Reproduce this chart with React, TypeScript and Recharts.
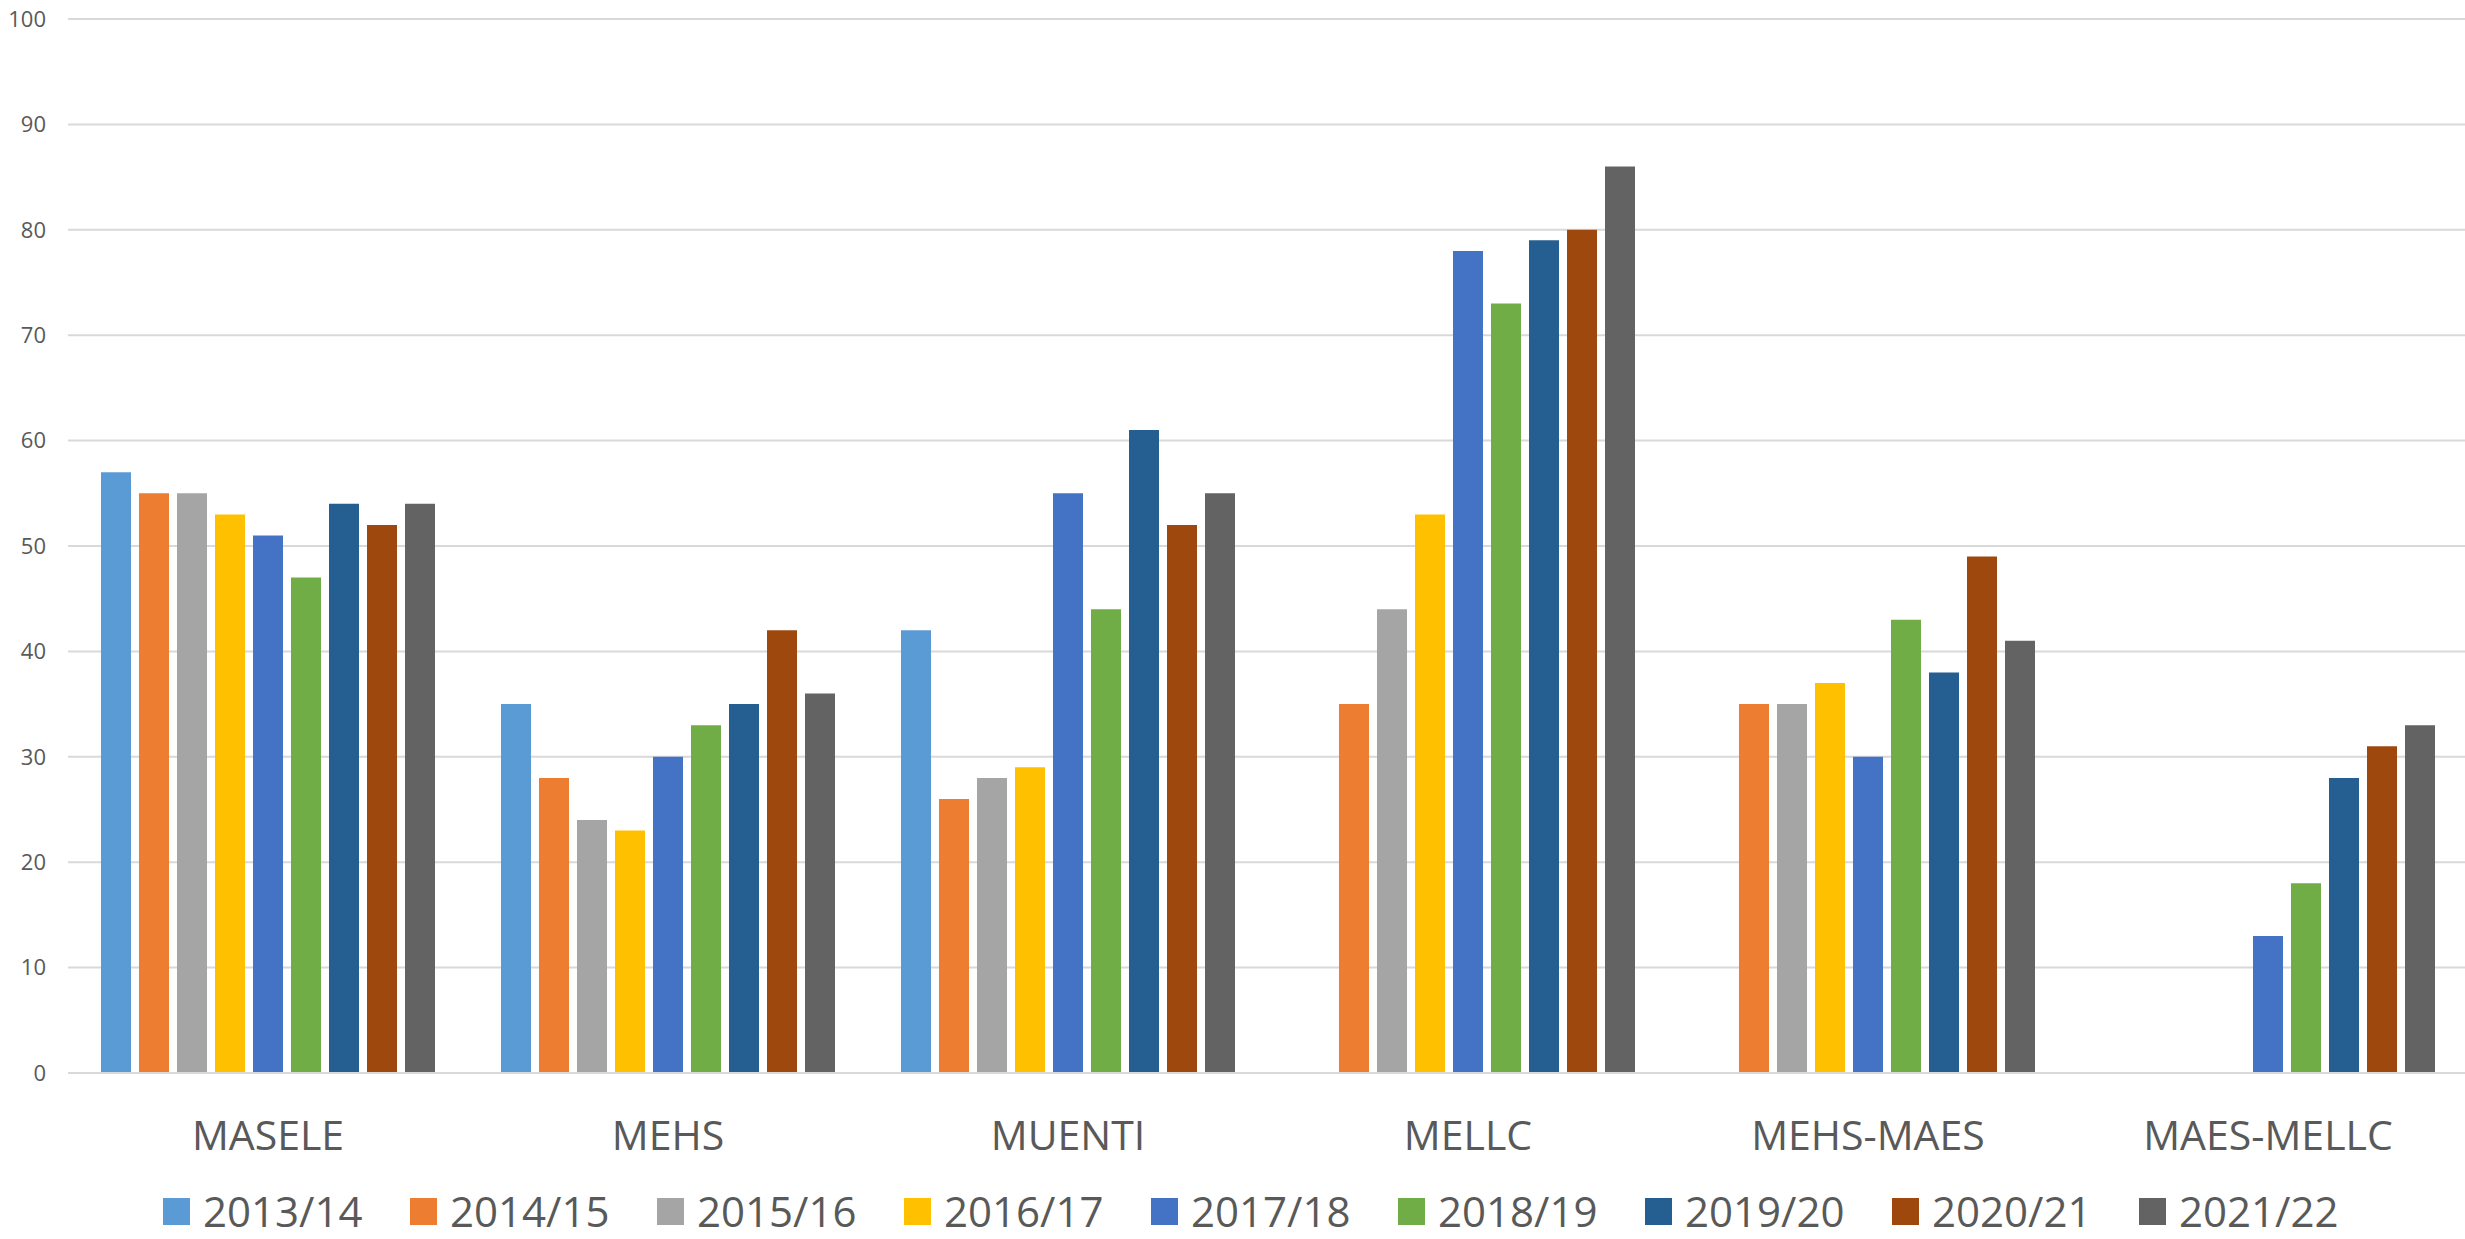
import React from 'react';
import { BarChart, Bar, XAxis, YAxis, CartesianGrid } from 'recharts';

const categories = ['MASELE', 'MEHS', 'MUENTI', 'MELLC', 'MEHS-MAES', 'MAES-MELLC'];
const years = ['2013/14', '2014/15', '2015/16', '2016/17', '2017/18', '2018/19', '2019/20', '2020/21', '2021/22'];
const colors = ['#5B9BD5', '#ED7D31', '#A5A5A5', '#FFC000', '#4472C4', '#70AD47', '#255E91', '#9E480E', '#636363'];

// one array per year, values in category order (null = no bar)
const y1314 = [57, 35, 42, null, null, null];
const y1415 = [55, 28, 26, 35, 35, null];
const y1516 = [55, 24, 28, 44, 35, null];
const y1617 = [53, 23, 29, 53, 37, null];
const y1718 = [51, 30, 55, 78, 30, 13];
const y1819 = [47, 33, 44, 73, 43, 18];
const y1920 = [54, 35, 61, 79, 38, 28];
const y2021 = [52, 42, 52, 80, 49, 31];
const y2122 = [54, 36, 55, 86, 41, 33];
const seriesValues = [y1314, y1415, y1516, y1617, y1718, y1819, y1920, y2021, y2122];

const yTicks = [0, 10, 20, 30, 40, 50, 60, 70, 80, 90, 100];

const data = categories.map((name, i) => {
  const row: Record<string, string | number | null> = { name };
  years.forEach((yr, j) => {
    row[yr] = seriesValues[j][i];
  });
  return row;
});

const FONT = '"Open Sans", "Noto Sans", sans-serif';
const TEXT = '#595959';

const App: React.FC = () => {
  return (
    <div style={{ position: 'absolute', left: 0, top: 0, width: 2465, height: 1239, background: '#fff', fontFamily: FONT, overflow: 'hidden' }}>
      <BarChart
        width={2465}
        height={1239}
        data={data}
        margin={{ top: 19, right: -3, bottom: 0, left: 0 }}
        barCategoryGap={33}
        barGap={8}
      >
        <CartesianGrid vertical={false} stroke="#d9d9d9" strokeWidth={2} />
        <XAxis
          dataKey="name"
          height={166}
          axisLine={{ stroke: '#d9d9d9', strokeWidth: 2 }}
          tickLine={false}
          tickSize={0}
          tickMargin={48}
          tick={{ fill: TEXT, fontSize: 41, fontFamily: FONT }}
          interval={0}
        />
        <YAxis
          width={68}
          domain={[0, 100]}
          ticks={yTicks}
          axisLine={false}
          tickLine={false}
          tickSize={0}
          tickMargin={22}
          tick={{ fill: TEXT, fontSize: 22, fontFamily: FONT }}
        />
        {years.map((yr, j) => (
          <Bar key={yr} dataKey={yr} fill={colors[j]} isAnimationActive={false} />
        ))}
      </BarChart>

      {/* legend row under the category labels */}
      <div style={{ position: 'absolute', left: 163, top: 1190, height: 42, display: 'flex' }}>
        {years.map((yr, j) => (
          <div key={yr} style={{ width: 247, height: 42, display: 'flex', alignItems: 'center' }}>
            <div style={{ width: 27, height: 27, background: colors[j], marginRight: 13 }} />
            <span style={{ fontSize: 42, color: TEXT, lineHeight: '42px' }}>{yr}</span>
          </div>
        ))}
      </div>
    </div>
  );
};

export default App;
